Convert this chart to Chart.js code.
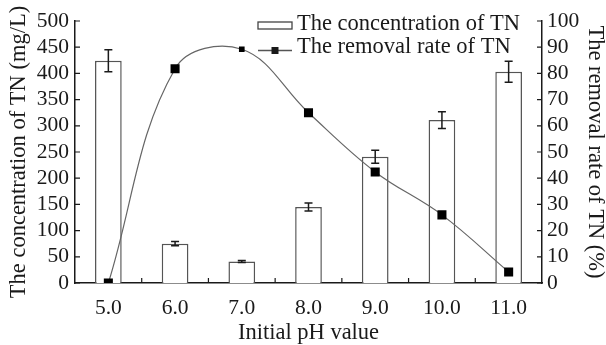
<!DOCTYPE html>
<html>
<head>
<meta charset="utf-8">
<script src="https://cdn.jsdelivr.net/npm/chart.js@4.4.0/dist/chart.umd.min.js"></script>
<style>
  html, body { margin: 0; padding: 0; background: #fff; }
  #wrap { width: 606px; height: 345px; }
</style>
</head>
<body>
<div id="wrap"><canvas id="tnChart"></canvas></div>
<script>
// data
const phLabels = ['5.0', '6.0', '7.0', '8.0', '9.0', '10.0', '11.0'];
const tnConc = [424, 75, 41, 145, 241, 311, 403];
const tnConcErr = [21, 4, 2, 7.5, 12.5, 16, 20];
const tnRemoval = [0, 81.8, 89.2, 65, 42.4, 26, 4.2];
const removalMarker = [6.4, 6.4, 4, 6.4, 6.4, 6.4, 6.4];

const FAMILY = "'Liberation Serif', 'Times New Roman', serif";
const TICK_FONT = { family: FAMILY, size: 21.5, lineHeight: 1 };
const TITLE_FONT = { family: FAMILY, size: 22.5, lineHeight: 1 };
const INK = '#1a1a1a';

// error bars on the concentration bars
const errorBars = {
    id: 'errorBars',
    afterDatasetDraw(chart, args) {
        if (args.index !== 1) return;
        const ctx = chart.ctx;
        const x = chart.scales.x, y = chart.scales.y;
        ctx.save();
        ctx.strokeStyle = INK;
        ctx.lineWidth = 1.5;
        tnConc.forEach((v, i) => {
            const px = x.getPixelForValue(i);
            const top = y.getPixelForValue(v + tnConcErr[i]);
            const bot = y.getPixelForValue(v - tnConcErr[i]);
            ctx.beginPath();
            ctx.moveTo(px, top); ctx.lineTo(px, bot);
            ctx.moveTo(px - 4, top); ctx.lineTo(px + 4, top);
            ctx.moveTo(px - 4, bot); ctx.lineTo(px + 4, bot);
            ctx.stroke();
        });
        ctx.restore();
    }
};

// inside tick marks + legend
const decor = {
    id: 'decor',
    afterDraw(chart) {
        const ctx = chart.ctx;
        const a = chart.chartArea;
        const { x, y, y1 } = chart.scales;
        ctx.save();
        ctx.strokeStyle = INK;
        ctx.lineWidth = 1.2;
        ctx.beginPath();
        y.ticks.forEach((t, i) => {
            const py = y.getPixelForTick(i);
            ctx.moveTo(a.left, py); ctx.lineTo(a.left + 5, py);
        });
        y1.ticks.forEach((t, i) => {
            const py = y1.getPixelForTick(i);
            ctx.moveTo(a.right, py); ctx.lineTo(a.right - 5, py);
        });
        for (let i = 1; i < phLabels.length; i++) {
            const px = (x.getPixelForValue(i - 1) + x.getPixelForValue(i)) / 2;
            ctx.moveTo(px, a.bottom); ctx.lineTo(px, a.bottom - 5);
        }
        ctx.stroke();

        // legend
        const lx = a.left + 183, ly = a.top + 4;
        ctx.font = `${TITLE_FONT.size}px ${FAMILY}`;
        ctx.fillStyle = INK;
        ctx.textBaseline = 'middle';
        ctx.strokeStyle = '#444';
        ctx.lineWidth = 1.3;
        ctx.strokeRect(lx, ly - 3, 34, 7);
        ctx.fillText(chart.data.datasets[1].label, lx + 39, ly - 1);
        const ly2 = ly + 25.5;
        ctx.strokeStyle = '#555';
        ctx.beginPath();
        ctx.moveTo(lx, ly2); ctx.lineTo(lx + 34, ly2);
        ctx.stroke();
        ctx.fillRect(lx + 13.5, ly2 - 3.5, 7, 7);
        ctx.fillText(chart.data.datasets[0].label, lx + 39, ly2 - 3);
        ctx.restore();
    }
};

const ctx = document.getElementById('tnChart').getContext('2d');
new Chart(ctx, {
    data: {
        labels: phLabels,
        datasets: [{
            type: 'line',
            label: 'The removal rate of TN',
            data: tnRemoval,
            yAxisID: 'y1',
            borderColor: '#666',
            borderWidth: 1.2,
            tension: 0.38,
            pointStyle: 'rect',
            pointRadius: removalMarker,
            pointBackgroundColor: '#000',
            pointBorderColor: '#000',
            pointBorderWidth: 0,
            order: 0
        }, {
            type: 'bar',
            label: 'The concentration of TN',
            data: tnConc,
            yAxisID: 'y',
            backgroundColor: '#fff',
            borderColor: '#555',
            borderWidth: 1.5,
            barPercentage: 0.4,
            categoryPercentage: 1,
            order: 1
        }]
    },
    options: {
        responsive: true,
        maintainAspectRatio: false,
        animation: false,
        layout: { padding: { top: 21, left: 0, right: 0, bottom: 0 } },
        plugins: {
            legend: { display: false },
            tooltip: { enabled: false }
        },
        scales: {
            x: {
                type: 'category',
                offset: true,
                grid: { display: false, offset: true, drawTicks: false },
                border: { display: true, color: INK, width: 1.5 },
                ticks: { color: INK, font: TICK_FONT, padding: 15 },
                title: { display: true, text: 'Initial pH value', color: INK, font: TITLE_FONT, padding: { top: 0, bottom: 1 } },
                afterFit: s => { s.height = 62; }
            },
            y: {
                position: 'left',
                min: 0, max: 500,
                grid: { display: false, drawTicks: false },
                border: { display: true, color: INK, width: 1.5 },
                ticks: { stepSize: 50, autoSkip: false, color: INK, font: TICK_FONT, padding: 6 },
                title: { display: true, text: 'The concentration of TN (mg/L)', color: INK, font: TITLE_FONT, padding: { top: 8, bottom: 0 } },
                afterFit: s => { s.width = 75; }
            },
            y1: {
                position: 'right',
                min: 0, max: 100,
                grid: { display: false, drawTicks: false },
                border: { display: true, color: INK, width: 1.5 },
                ticks: { stepSize: 10, autoSkip: false, color: INK, font: TICK_FONT, padding: 5 },
                title: { display: true, text: 'The removal rate of TN (%)', color: INK, font: TITLE_FONT, padding: { top: 0, bottom: 0 } },
                afterFit: s => { s.width = 64; }
            }
        }
    },
    plugins: [errorBars, decor]
});
</script>
</body>
</html>
